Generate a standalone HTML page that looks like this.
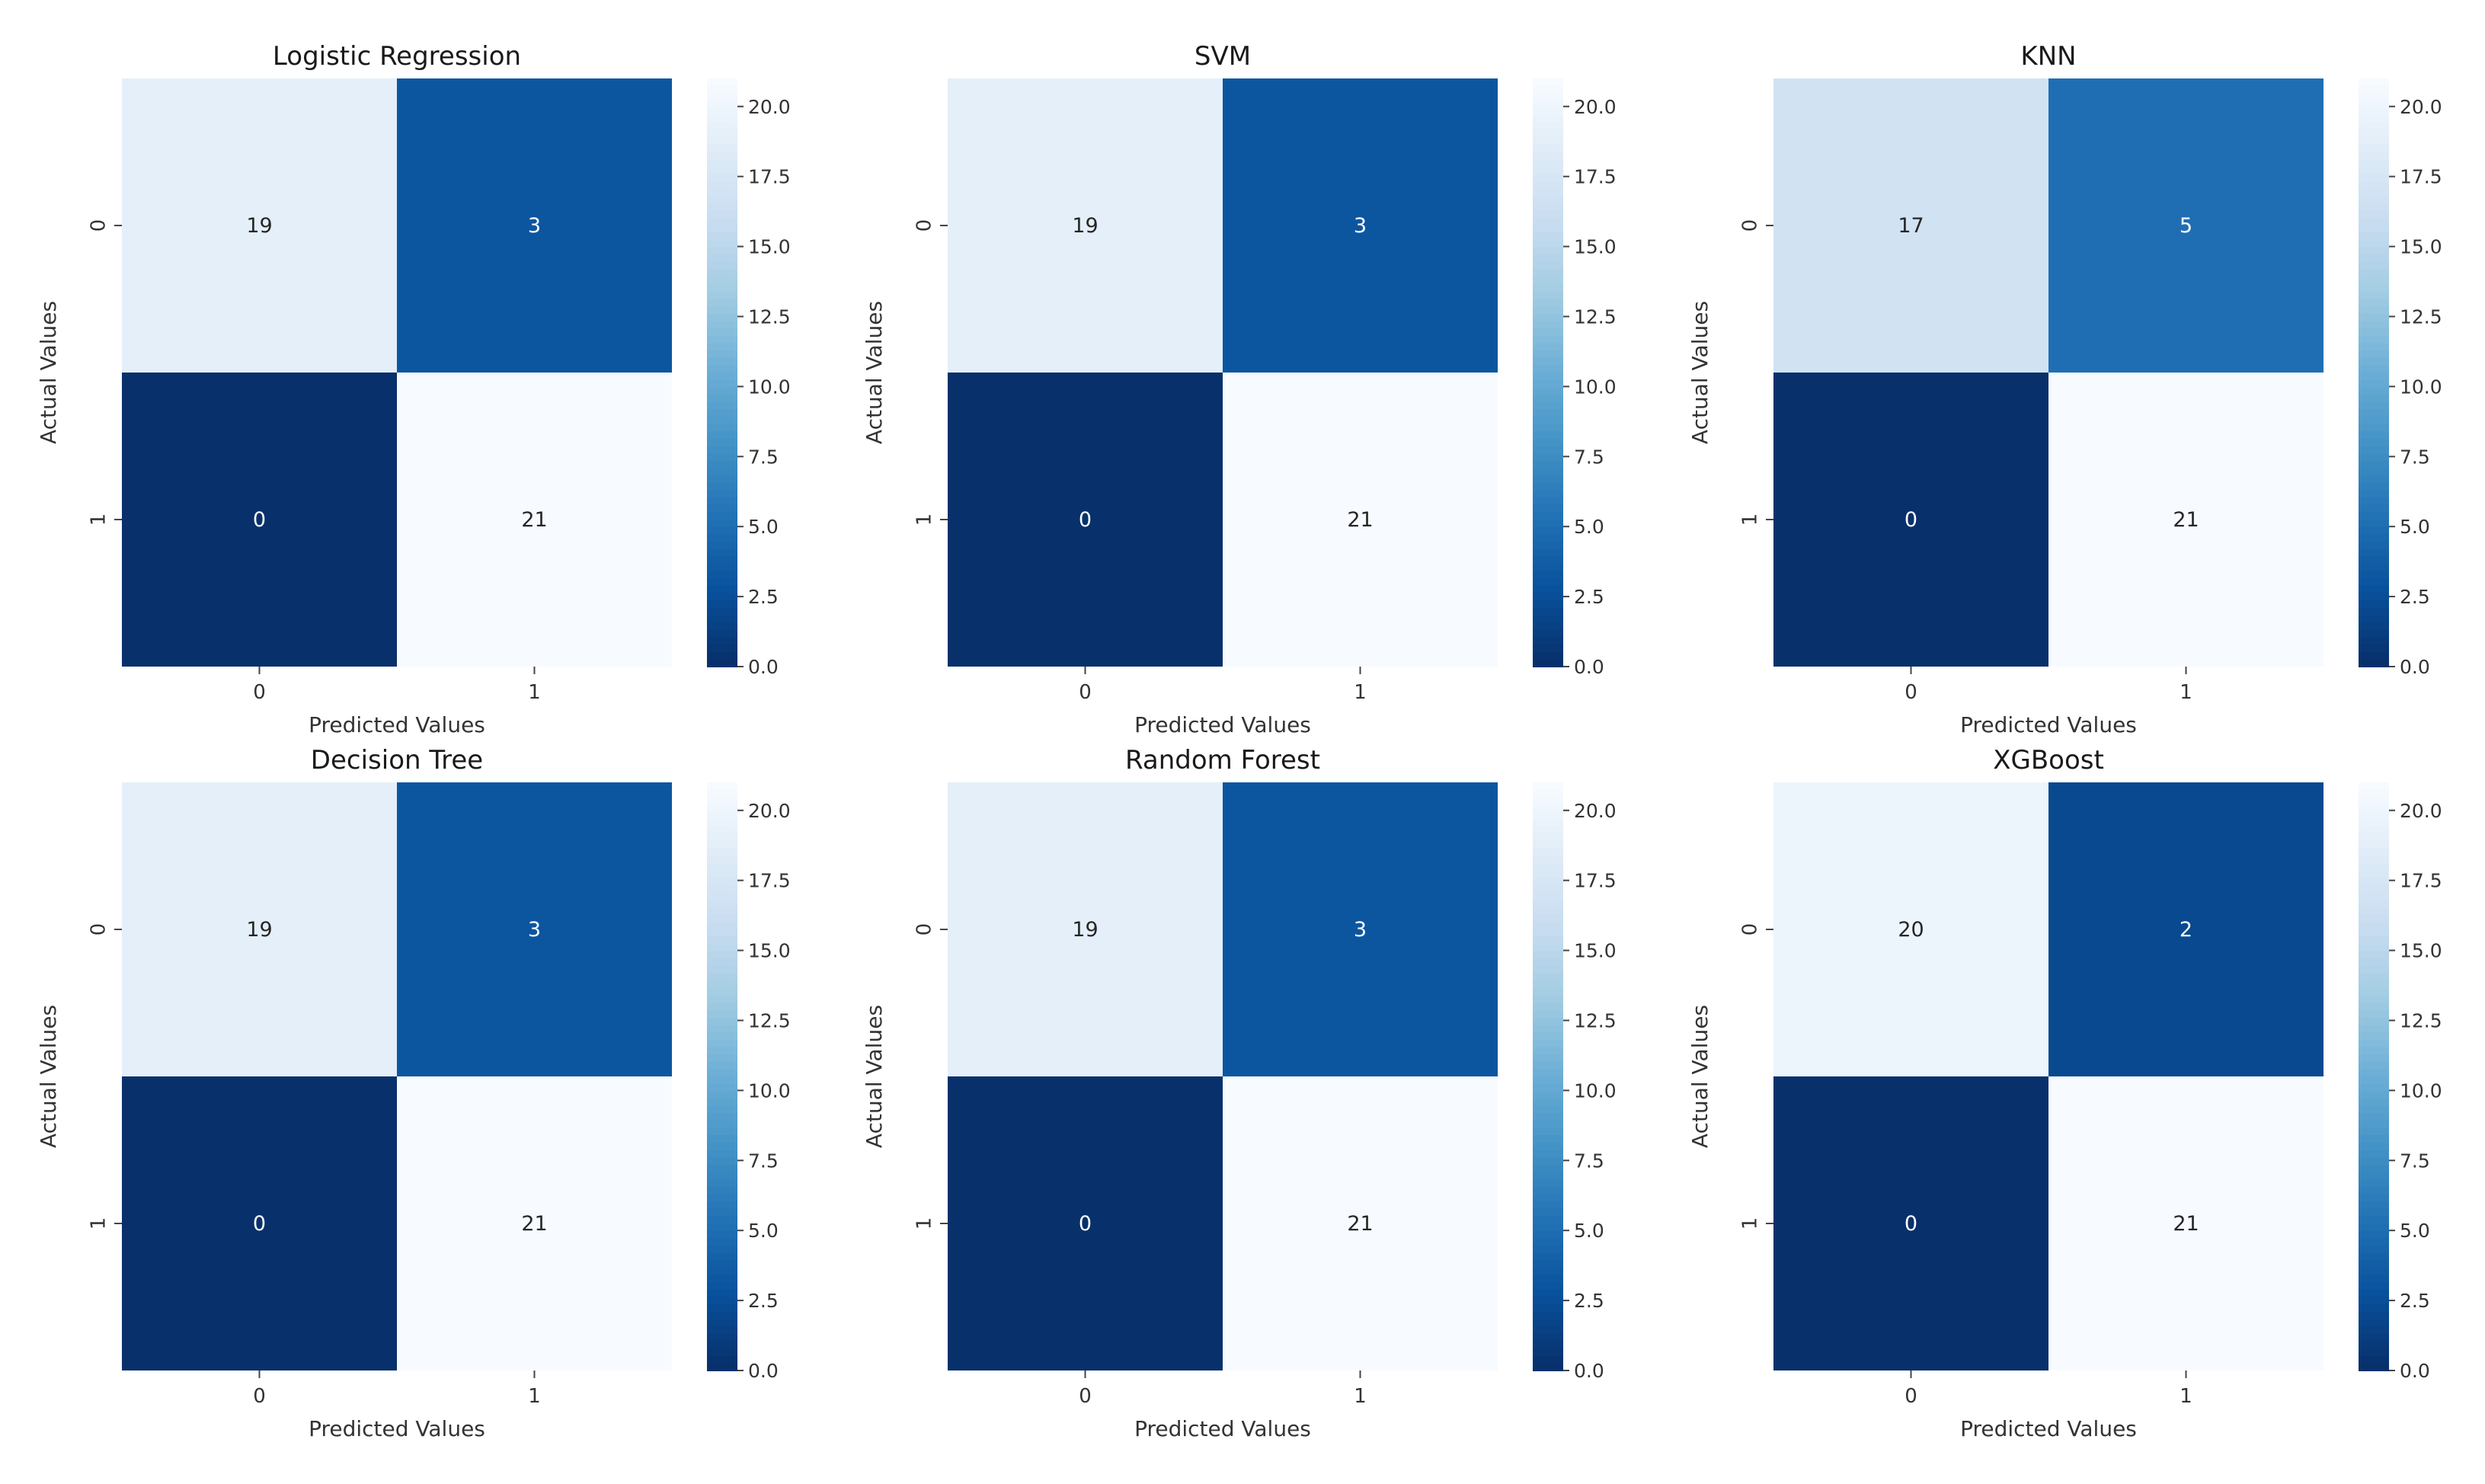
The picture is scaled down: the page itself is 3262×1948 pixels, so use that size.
<!DOCTYPE html>
<html><head><meta charset="utf-8"><style>
html,body{margin:0;padding:0;background:#fff;}
svg{display:block;font-family:"DejaVu Sans","Liberation Sans",sans-serif;}
</style></head><body>
<svg id="fig" width="3262" height="1948" viewBox="0 0 3262 1948" xmlns="http://www.w3.org/2000/svg"></svg>
<script>
const titles = ["Logistic Regression","SVM","KNN","Decision Tree","Random Forest","XGBoost"];
const cmLR  = [[19,3],[0,21]];
const cmSVM = [[19,3],[0,21]];
const cmKNN = [[17,5],[0,21]];
const cmDT  = [[19,3],[0,21]];
const cmRF  = [[19,3],[0,21]];
const cmXGB = [[20,2],[0,21]];
const cbTicks = [0,2.5,5,7.5,10,12.5,15,17.5,20];
const classLabels = ["0","1"];

const NS="http://www.w3.org/2000/svg";
const svg=document.getElementById('fig');
const blues=["#f7fbff","#deebf7","#c6dbef","#9ecae1","#6baed6","#4292c6","#2171b5","#08519c","#08306b"];
function hex(c){return [parseInt(c.slice(1,3),16),parseInt(c.slice(3,5),16),parseInt(c.slice(5,7),16)];}
function colorAt(t){t=Math.max(0,Math.min(1,t));const p=t*8;const i=Math.min(7,Math.floor(p));const f=p-i;const a=hex(blues[i]),b=hex(blues[i+1]);
 return "rgb("+a.map((v,k)=>Math.round(v+(b[k]-v)*f)).join(",")+")";}
function el(tag,attrs,parent){const e=document.createElementNS(NS,tag);for(const k in attrs)e.setAttribute(k,attrs[k]);(parent||svg).appendChild(e);return e;}

const mats=[cmLR,cmSVM,cmKNN,cmDT,cmRF,cmXGB];
const colX=[160,1244,2328];
const rowY=[103,1027];
const W=722,H=772;

mats.forEach((m,idx)=>{
  const px=colX[idx%3], py=rowY[Math.floor(idx/3)];
  const vmin=Math.min(...m.flat()), vmax=Math.max(...m.flat());
  const norm=v=>(v-vmin)/(vmax-vmin);
  const g=el('g',{});
  
  
  const cw=W/2, ch=H/2;
  const xS=j=>px+j*cw, yS=i=>py+i*ch;
  for(let i=0;i<2;i++)for(let j=0;j<2;j++){
    const v=m[i][j]; const t=1-norm(v);
    const r=el('rect',{x:xS(j),y:yS(i),width:cw,height:ch,fill:colorAt(t)},g);
    
    
    const tx=el('text',{x:xS(j)+cw/2,y:yS(i)+ch/2+9,'text-anchor':'middle','font-size':27,fill:t>0.5?'#ffffff':'#262626'},g);
    tx.textContent=v;
    
    
  }
  const tt=el('text',{x:px+W/2,y:py-18,'text-anchor':'middle','font-size':34,fill:'#1a1a1a'},g);
  tt.textContent=titles[idx];
  
  
  classLabels.forEach((lab,k)=>{
    const cx=xS(k)+cw/2;
    el('line',{x1:cx,y1:py+H,x2:cx,y2:py+H+10,stroke:'#444','stroke-width':2},g);
    const xt=el('text',{x:cx,y:py+H+42,'text-anchor':'middle','font-size':26,fill:'#333'},g);
    xt.textContent=lab;
    
    
    const cy=yS(k)+ch/2;
    el('line',{x1:px-10,y1:cy,x2:px,y2:cy,stroke:'#444','stroke-width':2},g);
    const yt=el('text',{x:px-30,y:cy,'text-anchor':'middle','font-size':26,fill:'#333',transform:'rotate(-90 '+(px-30)+' '+cy+')','dominant-baseline':'middle'},g);
    yt.textContent=lab;
    
    
  });
  const xl=el('text',{x:px+W/2,y:py+H+86,'text-anchor':'middle','font-size':28,fill:'#333'},g);
  xl.textContent='Predicted Values';
  
  
  const ylx=px-87, yly=py+H/2;
  const yl=el('text',{x:ylx,y:yly,'text-anchor':'middle','font-size':28,fill:'#333',transform:'rotate(-90 '+ylx+' '+yly+')'},g);
  yl.textContent='Actual Values';
  
  
  // colorbar
  const cbx=px+W+46, cbw=40;
  const cb=el('g',{},g);
  
  
  const steps=80;
  for(let s=0;s<steps;s++){
    el('rect',{x:cbx,y:py+s*H/steps,width:cbw,height:H/steps+1,fill:colorAt(s/(steps-1))},cb);
  }
  const cbY=v=>py+H-(v-vmin)/(vmax-vmin)*H;
  cbTicks.forEach(v=>{
    if(v<vmin||v>vmax)return;
    const y=cbY(v);
    el('line',{x1:cbx+cbw,y1:y,x2:cbx+cbw+8,y2:y,stroke:'#444','stroke-width':2},cb);
    const t=el('text',{x:cbx+cbw+14,y:y+9,'font-size':25,fill:'#333'},cb);
    t.textContent=v.toFixed(1);
    
    
  });
});
</script>
</body></html>
